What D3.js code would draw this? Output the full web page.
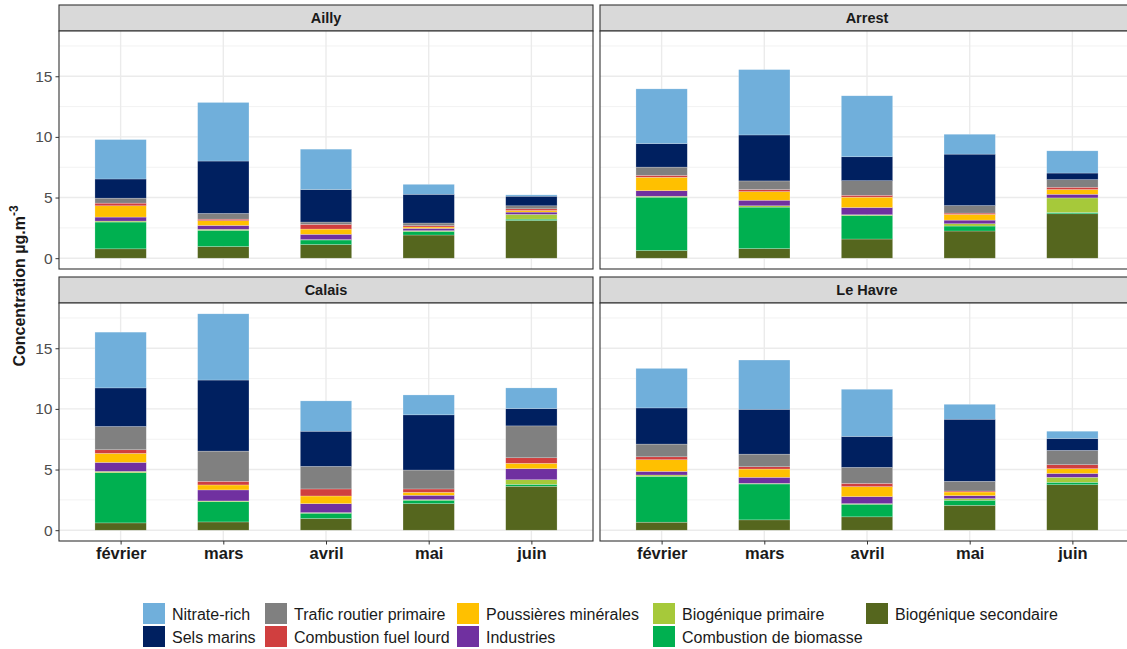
<!DOCTYPE html>
<html>
<head>
<meta charset="utf-8">
<script src="https://cdn.jsdelivr.net/npm/d3@7"></script>
<style>
  html, body { margin: 0; padding: 0; background: #fff; }
  svg { display: block; font-family: "Liberation Sans", Arial, sans-serif; }
</style>
</head>
<body>
<svg id="chart" width="1127" height="649"></svg>
<script>
// Months on the x axis
const months = ["février", "mars", "avril", "mai", "juin"];

// Source factors, in stacking order (first = top of each bar)
const sources = [
  "Nitrate-rich", "Sels marins", "Trafic routier primaire",
  "Combustion fuel lourd", "Poussières minérales", "Industries",
  "Biogénique primaire", "Combustion de biomasse", "Biogénique secondaire"
];
const sourceColors = [
  "#70AFDB", "#002060", "#808080",
  "#D03F3F", "#FFC000", "#7030A0",
  "#A6C93A", "#00B050", "#55661E"
];

// Sites (facet titles)
const sites = ["Ailly", "Arrest", "Calais", "Le Havre"];

// Contributions (µg.m-3): one row per source, one column per month
const ailly = [
  [3.25, 4.83, 3.33, 0.82, 0.11],
  [1.58, 4.32, 2.68, 2.37, 0.79],
  [0.41, 0.47, 0.19, 0.22, 0.25],
  [0.22, 0.13, 0.39, 0.11, 0.14],
  [0.93, 0.39, 0.43, 0.11, 0.13],
  [0.33, 0.32, 0.44, 0.19, 0.19],
  [0.08, 0.08, 0.03, 0.06, 0.39],
  [2.21, 1.34, 0.38, 0.30, 0.11],
  [0.77, 0.96, 1.12, 1.91, 3.11]
];
const arrest = [
  [4.51, 5.39, 5.03, 1.64, 1.83],
  [1.94, 3.79, 1.97, 4.24, 0.54],
  [0.68, 0.71, 1.20, 0.62, 0.63],
  [0.16, 0.17, 0.16, 0.11, 0.19],
  [1.10, 0.71, 0.85, 0.47, 0.39],
  [0.46, 0.46, 0.60, 0.30, 0.30],
  [0.08, 0.11, 0.06, 0.19, 1.20],
  [4.40, 3.42, 1.94, 0.41, 0.11],
  [0.63, 0.79, 1.58, 2.24, 3.66]
];
const calais = [
  [4.60, 5.46, 2.50, 1.64, 1.70],
  [3.18, 5.86, 2.90, 4.55, 1.43],
  [1.92, 2.49, 1.86, 1.56, 2.63],
  [0.30, 0.30, 0.58, 0.28, 0.46],
  [0.74, 0.41, 0.63, 0.24, 0.44],
  [0.74, 0.91, 0.74, 0.36, 0.91],
  [0.11, 0.05, 0.05, 0.05, 0.38],
  [4.14, 1.68, 0.44, 0.28, 0.16],
  [0.60, 0.68, 0.96, 2.19, 3.62]
];
const leHavre = [
  [3.26, 4.06, 3.89, 1.23, 0.60],
  [2.98, 3.70, 2.55, 5.12, 0.98],
  [1.05, 1.04, 1.32, 0.80, 1.18],
  [0.24, 0.19, 0.27, 0.08, 0.33],
  [0.96, 0.68, 0.82, 0.30, 0.39],
  [0.30, 0.50, 0.58, 0.25, 0.32],
  [0.11, 0.05, 0.05, 0.13, 0.41],
  [3.78, 2.96, 1.04, 0.42, 0.20],
  [0.66, 0.85, 1.10, 2.05, 3.75]
];
const siteValues = [ailly, arrest, calais, leHavre];

const yTicks = [0, 5, 10, 15];
const yMinor = [2.5, 7.5, 12.5, 17.5];

// ---------- layout ----------
const svg = d3.select("#chart");
const panelW = 534, panelH = 238, stripH = 26;
const colX = [59, 600];
const rowY = [31, 303];   // top of each panel (below its strip)

// Build stacked rows per site: one record per month
function rowsFor(values) {
  return months.map((m, j) => {
    const r = { month: m };
    sources.forEach((s, i) => { r[s] = values[i][j]; });
    return r;
  });
}
const stack = d3.stack().keys(sources.slice().reverse());
const stacked = siteValues.map(v => stack(rowsFor(v)));

const maxTotal = d3.max(stacked, st => d3.max(st[st.length - 1], d => d[1]));
const pad = 0.05 * maxTotal;

const y = d3.scaleLinear().domain([-pad, maxTotal + pad]).range([panelH, 0]);
const x = d3.scaleLinear().domain([0.4, months.length + 0.6]).range([0, panelW]);
const barW = x(1.5) - x(1);

const color = d3.scaleOrdinal().domain(sources).range(sourceColors);

sites.forEach((site, k) => {
  const col = k % 2, row = Math.floor(k / 2);
  const g = svg.append("g").attr("transform", `translate(${colX[col]},${rowY[row]})`);

  // strip
  g.append("rect")
    .attr("x", 0).attr("y", -stripH).attr("width", panelW).attr("height", stripH)
    .attr("fill", "#d9d9d9").attr("stroke", "#333").attr("stroke-width", 1.1);
  g.append("text")
    .attr("x", panelW / 2).attr("y", -stripH / 2).attr("dy", "0.36em")
    .attr("text-anchor", "middle").attr("font-size", 14.5).attr("font-weight", "bold")
    .attr("fill", "#1a1a1a").text(site);

  // panel background & grid
  g.append("rect").attr("width", panelW).attr("height", panelH).attr("fill", "#fff");
  g.selectAll(".gmin").data(yMinor).join("line")
    .attr("x1", 0).attr("x2", panelW).attr("y1", d => y(d)).attr("y2", d => y(d))
    .attr("stroke", "#f2f2f2").attr("stroke-width", 1);
  g.selectAll(".gmaj").data(yTicks).join("line")
    .attr("x1", 0).attr("x2", panelW).attr("y1", d => y(d)).attr("y2", d => y(d))
    .attr("stroke", "#ebebeb").attr("stroke-width", 1.4);
  g.selectAll(".gx").data(months).join("line")
    .attr("x1", (d, i) => x(i + 1)).attr("x2", (d, i) => x(i + 1))
    .attr("y1", 0).attr("y2", panelH)
    .attr("stroke", "#ebebeb").attr("stroke-width", 1.4);

  // stacked bars
  const layers = g.selectAll(".layer").data(stacked[k]).join("g")
    .attr("fill", d => color(d.key));
  layers.selectAll("rect").data(d => d).join("rect")
    .attr("x", (d, i) => x(i + 1) - barW / 2)
    .attr("width", barW)
    .attr("y", d => y(d[1]))
    .attr("height", d => Math.max(0, y(d[0]) - y(d[1])))
    .attr("stroke", "rgba(255,255,255,0.45)").attr("stroke-width", 0.5);

  // border
  g.append("rect").attr("width", panelW).attr("height", panelH)
    .attr("fill", "none").attr("stroke", "#333").attr("stroke-width", 1.1);

  // y axis on left column
  if (col === 0) {
    const ay = g.append("g").call(d3.axisLeft(y).tickValues(yTicks).tickSize(3.5).tickPadding(3));
    ay.select(".domain").remove();
    ay.selectAll("line").attr("stroke", "#333");
    ay.selectAll("text").attr("font-size", 15.5).attr("fill", "#4d4d4d")
      .attr("font-family", "Liberation Sans, Arial, sans-serif");
  }
  // x axis on bottom row
  if (row === 1) {
    const ax = g.append("g").attr("transform", `translate(0,${panelH})`)
      .call(d3.axisBottom(x).tickValues(d3.range(1, months.length + 1))
        .tickFormat(i => months[i - 1]).tickSize(3.5).tickPadding(3));
    ax.select(".domain").remove();
    ax.selectAll("line").attr("stroke", "#333");
    ax.selectAll("text").attr("font-size", 16.5).attr("font-weight", "bold")
      .attr("fill", "#1a1a1a").attr("font-family", "Liberation Sans, Arial, sans-serif");
  }
});

// y axis title
const yt = svg.append("text")
  .attr("transform", `translate(25,${(rowY[0] + rowY[1] + panelH) / 2}) rotate(-90)`)
  .attr("text-anchor", "middle").attr("font-size", 16).attr("font-weight", "bold")
  .attr("fill", "#1a1a1a");
yt.append("tspan").text("Concentration µg.m");
yt.append("tspan").attr("dy", -7).attr("font-size", 12).text("-3");

// legend: 2 rows, filled column by column
const legendCols = [143, 265, 457, 653, 866];
const legendRows = [603, 626];
const keySize = 22;
const lg = svg.append("g");
sources.forEach((s, i) => {
  const c = Math.floor(i / 2), r = i % 2;
  const item = lg.append("g").attr("transform", `translate(${legendCols[c]},${legendRows[r]})`);
  item.append("rect").attr("width", keySize).attr("height", keySize - 1).attr("fill", color(s));
  item.append("text").attr("x", keySize + 7).attr("y", keySize / 2).attr("dy", "0.36em")
    .attr("font-size", 16).attr("fill", "#1a1a1a").text(s);
});
</script>
</body>
</html>
